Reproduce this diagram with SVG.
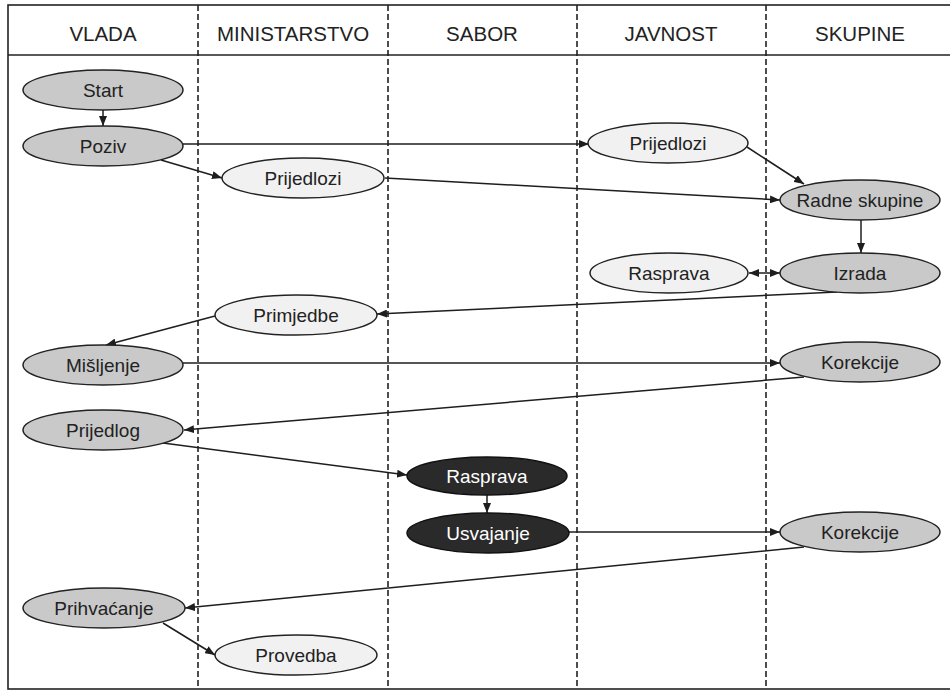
<svg xmlns="http://www.w3.org/2000/svg" width="950" height="691" viewBox="0 0 950 691">
<defs>
<marker id="arr" viewBox="0 0 10 8" refX="10" refY="4" markerWidth="10" markerHeight="8" markerUnits="userSpaceOnUse" orient="auto-start-reverse">
<path d="M0,0 L10,4 L0,8 z" fill="#1e1e1e"/>
</marker>
</defs>
<style>
.hdr{font-family:"Liberation Sans",Arial,sans-serif;font-size:20.5px;fill:#222;text-anchor:middle}
.lane{stroke:#222;stroke-width:1.6;stroke-dasharray:6 3;fill:none}
.frame{stroke:#222;stroke-width:1.6;fill:none}
.gray ellipse{fill:#c9c9c9;stroke:#222;stroke-width:1.5}
.light ellipse{fill:#f1f1f1;stroke:#222;stroke-width:1.5}
.dark ellipse{fill:#2a2a2a;stroke:#111;stroke-width:1.5}
.node text{font-family:"Liberation Sans",Arial,sans-serif;font-size:19px;text-anchor:middle;fill:#222}
.dark text{fill:#fff}
.conn line{stroke:#1e1e1e;stroke-width:1.5;marker-end:url(#arr)}
</style>
<rect x="0" y="0" width="950" height="691" fill="#fff"/>
<g id="lanes">
<rect class="frame" x="8" y="5" width="960" height="684"/>
<line class="frame" x1="8" y1="55" x2="950" y2="55"/>
<line class="lane" x1="198" y1="5" x2="198" y2="689"/>
<line class="lane" x1="388" y1="5" x2="388" y2="689"/>
<line class="lane" x1="577" y1="5" x2="577" y2="689"/>
<line class="lane" x1="766" y1="5" x2="766" y2="689"/>
<text class="hdr" x="103" y="41">VLADA</text>
<text class="hdr" x="293" y="41">MINISTARSTVO</text>
<text class="hdr" x="482" y="41">SABOR</text>
<text class="hdr" x="671" y="41">JAVNOST</text>
<text class="hdr" x="860" y="41">SKUPINE</text>
</g>
<g id="connectors" class="conn">
<line x1="103" y1="110" x2="103" y2="126"/>
<line x1="183" y1="144" x2="589" y2="144"/>
<line x1="161" y1="160" x2="222" y2="178"/>
<line x1="385" y1="178" x2="780" y2="200"/>
<line x1="747" y1="147" x2="804" y2="184"/>
<line x1="861" y1="220" x2="861" y2="253"/>
<line x1="749" y1="273" x2="780" y2="273" marker-start="url(#arr)"/>
<line x1="837" y1="292" x2="377" y2="314"/>
<line x1="215" y1="316" x2="106" y2="345"/>
<line x1="183" y1="363" x2="780" y2="363"/>
<line x1="804" y1="377" x2="184" y2="430"/>
<line x1="163" y1="443" x2="407" y2="475"/>
<line x1="487" y1="495" x2="487" y2="513"/>
<line x1="567" y1="532" x2="780" y2="532"/>
<line x1="804" y1="547" x2="185" y2="608"/>
<line x1="163" y1="623" x2="215" y2="655"/>
</g>
<g id="start" class="node gray"><ellipse cx="103" cy="90" rx="80" ry="20"/><text x="103" y="97">Start</text></g>
<g id="poziv" class="node gray"><ellipse cx="103" cy="146" rx="80" ry="20"/><text x="103" y="153">Poziv</text></g>
<g id="prijedlozi-min" class="node light"><ellipse cx="303" cy="178" rx="81" ry="20"/><text x="303" y="185">Prijedlozi</text></g>
<g id="prijedlozi-jav" class="node light"><ellipse cx="668" cy="143" rx="80" ry="20"/><text x="668" y="150">Prijedlozi</text></g>
<g id="radne-skupine" class="node gray"><ellipse cx="860" cy="200" rx="80" ry="20"/><text x="860" y="207">Radne skupine</text></g>
<g id="rasprava-jav" class="node light"><ellipse cx="669" cy="273" rx="79" ry="20"/><text x="669" y="280">Rasprava</text></g>
<g id="izrada" class="node gray"><ellipse cx="860" cy="273" rx="80" ry="20"/><text x="860" y="280">Izrada</text></g>
<g id="primjedbe" class="node light"><ellipse cx="296" cy="315" rx="81" ry="20"/><text x="296" y="322">Primjedbe</text></g>
<g id="misljenje" class="node gray"><ellipse cx="103" cy="365" rx="80" ry="20"/><text x="103" y="372">Mišljenje</text></g>
<g id="korekcije-1" class="node gray"><ellipse cx="860" cy="362" rx="80" ry="20"/><text x="860" y="369">Korekcije</text></g>
<g id="prijedlog" class="node gray"><ellipse cx="103" cy="430" rx="80" ry="20"/><text x="103" y="437">Prijedlog</text></g>
<g id="rasprava-sabor" class="node dark"><ellipse cx="487" cy="476" rx="80" ry="19"/><text x="487" y="483">Rasprava</text></g>
<g id="usvajanje" class="node dark"><ellipse cx="488" cy="533" rx="81" ry="20"/><text x="488" y="540">Usvajanje</text></g>
<g id="korekcije-2" class="node gray"><ellipse cx="860" cy="532" rx="80" ry="20"/><text x="860" y="539">Korekcije</text></g>
<g id="prihvacanje" class="node gray"><ellipse cx="104" cy="608" rx="81" ry="20"/><text x="104" y="615">Prihvaćanje</text></g>
<g id="provedba" class="node light"><ellipse cx="296" cy="655" rx="81" ry="20"/><text x="296" y="662">Provedba</text></g>
</svg>
